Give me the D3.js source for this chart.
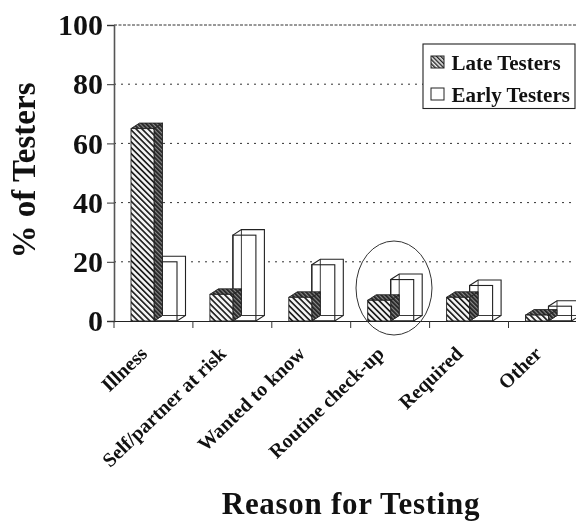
<!DOCTYPE html>
<html><head><meta charset="utf-8">
<script src="https://cdn.jsdelivr.net/npm/d3@7"></script>
<style>html,body{margin:0;padding:0;background:#fff;overflow:hidden}svg{display:block;filter:blur(0.5px)}text{font-family:"Liberation Serif",serif;font-weight:bold;fill:#111}</style>
</head><body><div id="c"></div>
<script>
const categories=["Illness","Self/partner at risk","Wanted to  know","Routine check-up","Required","Other"];
const seriesNames=["Late Testers","Early Testers"];
const lateValues=[65,9,8,7,8,2];
const earlyValues=[20,29,19,14,12,5];
const yTicks=[0,20,40,60,80,100];

const W=576,H=521;
const svg=d3.select("#c").append("svg").attr("width",W).attr("height",H);
const defs=svg.append("defs");
function hatch(id,gap,sw,bg){
  const p=defs.append("pattern").attr("id",id).attr("patternUnits","userSpaceOnUse")
    .attr("width",gap).attr("height",gap).attr("patternTransform","rotate(-45)");
  p.append("rect").attr("width",gap).attr("height",gap).attr("fill",bg);
  p.append("rect").attr("width",sw).attr("height",gap).attr("fill","#222");
}
hatch("hFront",4.2,1.7,"#f4f4f4");
hatch("hDark",3,1.8,"#888");
hatch("hLegend",3,1.4,"#eee");

const y=d3.scaleLinear().domain([0,100]).range([321,25]);
const x0=d3.scaleBand().domain(categories).range([114,587.4]);
const x1=d3.scaleBand().domain(seriesNames).range([17,63]);
const dx=8.5,dy=5.5;

// grid
svg.append("g").selectAll("line").data(yTicks.filter(d=>d>0)).join("line")
  .attr("x1",114).attr("x2",W).attr("y1",d=>y(d)).attr("y2",d=>y(d))
  .attr("stroke","#333").attr("stroke-width",1).attr("stroke-dasharray",d=>d===100?"3 1.5":"2 5");

// y axis
const ya=svg.append("g").attr("transform","translate(114,0)").call(d3.axisLeft(y).tickValues(yTicks).tickSize(7).tickPadding(4));
ya.select(".domain").attr("stroke","#555").attr("stroke-width",1.6);
ya.selectAll("line").attr("stroke","#333");
ya.selectAll("text").style("font-size","30px").style("font-family","Liberation Serif").style("font-weight","bold").attr("fill","#111");

function bar(g,cat,name,v){
  const l=x0(cat)+x1(name),w=x1.bandwidth(),r=l+w,t=y(v),b=y(0);
  const line="#222";
  if(name==="Early Testers"){
    g.append("path").attr("d",`M${l},${t}L${l+dx},${t-dy}L${r+dx},${t-dy}L${r+dx},${b-dy}L${r},${b}L${l},${b}Z`).attr("fill","#fff").attr("stroke",line).attr("stroke-width",1.1);
    g.append("path").attr("d",`M${l+dx},${t-dy}L${l+dx},${b-dy}L${r+dx},${b-dy}M${l},${b}L${l+dx},${b-dy}`).attr("fill","none").attr("stroke",line).attr("stroke-width",.9);
    g.append("rect").attr("x",l).attr("y",t).attr("width",w).attr("height",b-t).attr("fill","none").attr("stroke",line).attr("stroke-width",1.1);
  } else {
    g.append("path").attr("d",`M${r},${t}L${r+dx},${t-dy}L${r+dx},${b-dy}L${r},${b}Z`).attr("fill","url(#hDark)").attr("stroke",line).attr("stroke-width",.9);
    g.append("path").attr("d",`M${l},${t}L${l+dx},${t-dy}L${r+dx},${t-dy}L${r},${t}Z`).attr("fill","url(#hDark)").attr("stroke",line).attr("stroke-width",.9);
    g.append("rect").attr("x",l).attr("y",t).attr("width",w).attr("height",b-t).attr("fill","url(#hFront)").attr("stroke",line).attr("stroke-width",.9);
  }
}
const bars=svg.append("g");
categories.forEach((c,i)=>{
  bar(bars,c,"Early Testers",earlyValues[i]);
  bar(bars,c,"Late Testers",lateValues[i]);
});

// x axis
const xa=svg.append("g").attr("transform","translate(0,321)").call(d3.axisBottom(x0).tickSize(0).tickPadding(0));
xa.select(".domain").attr("stroke","#222").attr("stroke-width",1.2);
xa.selectAll("text")
  .attr("text-anchor","end").attr("dy",0).attr("y",0)
  .attr("transform",`translate(-5,34) rotate(-44)`)
  .style("font-size","20px").style("font-family","Liberation Serif").style("font-weight","bold").attr("fill","#111");
svg.append("g").selectAll("line").data(categories).join("line")
  .attr("x1",d=>x0(d)).attr("x2",d=>x0(d)).attr("y1",321).attr("y2",328).attr("stroke","#333");

// ellipse
svg.append("ellipse").attr("cx",394).attr("cy",288).attr("rx",38).attr("ry",47)
  .attr("fill","none").attr("stroke","#333").attr("stroke-width",1);

// legend
svg.append("rect").attr("x",423).attr("y",44).attr("width",152).attr("height",64.5).attr("fill","#fff").attr("stroke","#222").attr("stroke-width",1.1);
const lg=svg.append("g").selectAll("g").data(seriesNames).join("g").attr("transform",(d,i)=>`translate(431,${56+i*32})`);
lg.append("rect").attr("width",13).attr("height",12).attr("fill",(d,i)=>i?"#fff":"url(#hLegend)").attr("stroke","#222");
lg.append("text").attr("x",20.5).attr("y",14).style("font-size","21px").text(d=>d);

// titles
svg.append("text").attr("x",351).attr("y",513.5).attr("text-anchor","middle").style("font-size","31px").style("letter-spacing","0.7px").text("Reason for Testing");
svg.append("text").attr("transform","translate(35,170.5) rotate(-90)").attr("text-anchor","middle").style("font-size","33px").text("% of Testers");
</script></body></html>
